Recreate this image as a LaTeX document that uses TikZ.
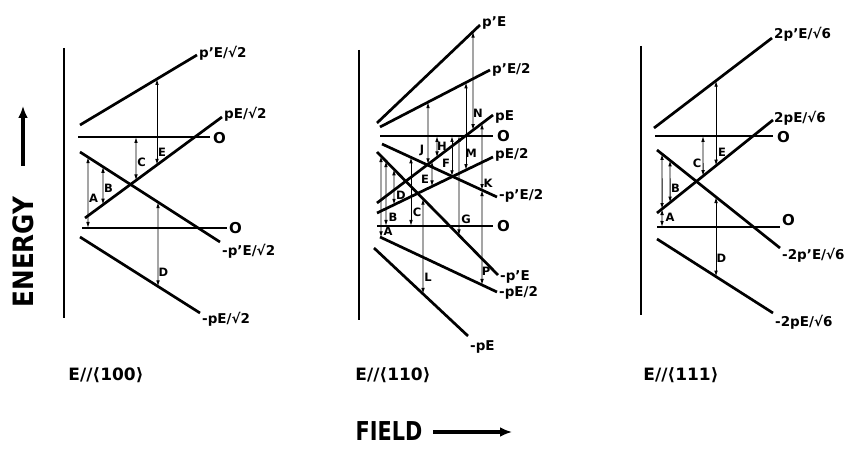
\documentclass[tikz,border=0pt]{standalone}
\usepackage{fontspec}
\setmainfont{DejaVu Sans}
\usetikzlibrary{arrows.meta}
\newcommand\trn[4]{%
  \coordinate (#1t) at (intersection cs:first line={(#3s)--(#3e)},second line={(#2,0)--(#2,10)});
  \coordinate (#1b) at (intersection cs:first line={(#4s)--(#4e)},second line={(#2,0)--(#2,10)});
  \draw[trans] (#1t) -- (#1b);}
\begin{document}
\begin{tikzpicture}[x=1pt,y=-1pt,
  level/.style={line width=2.7pt},
  axisline/.style={line width=2.7pt},
  trans/.style={line width=0.9pt,{Latex[length=6pt,width=3.6pt]}-{Latex[length=6pt,width=3.6pt]}},
  tlab/.style={font=\bfseries\fontsize{11.5}{11.5}\selectfont,inner sep=0pt},
  llab/.style={font=\bfseries\fontsize{13.5}{13.5}\selectfont,inner sep=0pt,anchor=west},
  olab/.style={font=\bfseries\fontsize{15}{15}\selectfont,inner sep=0pt,anchor=west},
  big/.style={font=\bfseries\fontsize{28}{28}\selectfont,inner sep=0pt},
  captxt/.style={font=\bfseries\fontsize{17}{17}\selectfont,inner sep=0pt},
  bigarrow/.style={line width=3.4pt,-{Latex[length=12pt,width=10pt]}}]
\useasboundingbox (0,0) rectangle (860,449);
% ---------------- axis titles
\node[big,rotate=90] (energy) at (23,252) {\scalebox{0.88}[1]{ENERGY}};
\coordinate (ea) at (23,166); \coordinate (eb) at (23,106);
\draw[bigarrow] (ea) -- (eb);
\node[big,font=\bfseries\fontsize{26}{26}\selectfont] (field) at (389,431) {\scalebox{0.8}[1]{FIELD}};
\coordinate (fa) at (433,432); \coordinate (fb) at (512,432);
\draw[bigarrow] (fa) -- (fb);
% ---------------- panel 1: E//<100>
\coordinate (ax1s) at (64,48); \coordinate (ax1e) at (64,318);
\draw[axisline] (ax1s) -- (ax1e);
\coordinate (a1s) at (80,125); \coordinate (a1e) at (197,55);
\coordinate (o1s) at (78,137); \coordinate (o1e) at (210,137);
\coordinate (b1s) at (85,218); \coordinate (b1e) at (222,117);
\coordinate (c1s) at (80,152); \coordinate (c1e) at (220,242);
\coordinate (z1s) at (82,228); \coordinate (z1e) at (227,228);
\coordinate (d1s) at (80,237); \coordinate (d1e) at (200,313);
\draw[level] (a1s) -- (a1e);
\draw[level] (o1s) -- (o1e);
\draw[level] (b1s) -- (b1e);
\draw[level] (c1s) -- (c1e);
\draw[level] (z1s) -- (z1e);
\draw[level] (d1s) -- (d1e);
\node[llab] (la1) at (199,53) {p'E/√2};
\node[olab] (lo1) at (213,138) {O};
\node[llab] (lb1) at (224,114) {pE/√2};
\node[llab] (lc1) at (222,251) {-p'E/√2};
\node[olab] (lz1) at (229,228) {O};
\node[llab] (ld1) at (202,319) {-pE/√2};
\trn{qA}{88}{c1}{z1}
\trn{qB}{103}{c1}{b1}
\trn{qC}{136}{o1}{b1}
\trn{qE}{157}{a1}{b1}
\trn{qD}{158}{c1}{d1}
\node[tlab] (tA1) at (93.5,198) {A};
\node[tlab] (tB1) at (108.5,188) {B};
\node[tlab] (tC1) at (141.5,162) {C};
\node[tlab] (tE1) at (162,152) {E};
\node[tlab] (tD1) at (163.5,272) {D};
\node[captxt] (cap1) at (106,375) {E//⟨100⟩};
% ---------------- panel 2: E//<110>
\coordinate (ax2s) at (359,50); \coordinate (ax2e) at (359,320);
\draw[axisline] (ax2s) -- (ax2e);
\coordinate (P1s) at (377,123); \coordinate (P1e) at (480,25);
\coordinate (P2s) at (380,127); \coordinate (P2e) at (490,70);
\coordinate (P3s) at (377,203); \coordinate (P3e) at (493,115);
\coordinate (U2s) at (380,136); \coordinate (U2e) at (493,136);
\coordinate (P4s) at (377,213); \coordinate (P4e) at (493,157);
\coordinate (P5s) at (382,144); \coordinate (P5e) at (497,197);
\coordinate (L2s) at (377,226); \coordinate (L2e) at (493,226);
\coordinate (P6s) at (377,152); \coordinate (P6e) at (498,275);
\coordinate (P7s) at (380,237); \coordinate (P7e) at (497,292);
\coordinate (P8s) at (374,248); \coordinate (P8e) at (468,336);
\foreach \l in {P1,P2,P3,U2,P4,P5,L2,P6,P7,P8} \draw[level] (\l s) -- (\l e);
\node[llab] (lP1) at (482,23) {p'E};
\node[llab] (lP2) at (492,70) {p'E/2};
\node[llab] (lP3) at (495,117) {pE};
\node[olab] (lU2) at (497,136) {O};
\node[llab] (lP4) at (495,155) {pE/2};
\node[llab] (lP5) at (499,196) {-p'E/2};
\node[olab] (lL2) at (497,226) {O};
\node[llab] (lP6) at (500,277) {-p'E};
\node[llab] (lP7) at (499,293) {-pE/2};
\node[llab] (lP8) at (470,347) {-pE};
\trn{rA}{381}{P6}{P7}
\trn{rB}{386}{P6}{L2}
\trn{rD}{394}{P6}{P4}
\trn{rC}{411}{P5}{L2}
\trn{rL}{423}{P6}{P8}
\trn{rJ}{428}{P2}{P3}
\trn{rE}{432}{P3}{P4}
\trn{rH}{437}{U2}{P3}
\trn{rF}{452}{U2}{P5}
\trn{rG}{459}{U2}{P6}
\trn{rM}{466}{P2}{P4}
\trn{rN}{473}{P1}{P3}
\trn{rK}{482}{P3}{P5}
\trn{rP}{482}{P5}{P7}
\node[tlab] (tA2) at (388,231) {A};
\node[tlab] (tB2) at (393,217) {B};
\node[tlab] (tD2) at (401,195) {D};
\node[tlab] (tC2) at (417,212) {C};
\node[tlab] (tL2) at (428,277) {L};
\node[tlab] (tJ2) at (422,150) {J};
\node[tlab] (tE2) at (425,179) {E};
\node[tlab] (tH2) at (442,146) {H};
\node[tlab] (tF2) at (446,163) {F};
\node[tlab] (tG2) at (466,219) {G};
\node[tlab] (tM2) at (471,153) {M};
\node[tlab] (tN2) at (478,113) {N};
\node[tlab] (tK2) at (488,183) {K};
\node[tlab] (tP2) at (486,271) {P};
\node[captxt] (cap2) at (393,375) {E//⟨110⟩};
% ---------------- panel 3: E//<111>
\coordinate (ax3s) at (641,46); \coordinate (ax3e) at (641,315);
\draw[axisline] (ax3s) -- (ax3e);
\coordinate (Q1s) at (654,128); \coordinate (Q1e) at (772,38);
\coordinate (U3s) at (655,136); \coordinate (U3e) at (773,136);
\coordinate (Q2s) at (657,213); \coordinate (Q2e) at (773,120);
\coordinate (Q3s) at (657,150); \coordinate (Q3e) at (780,248);
\coordinate (L3s) at (657,227); \coordinate (L3e) at (780,227);
\coordinate (Q4s) at (657,239); \coordinate (Q4e) at (773,313);
\foreach \l in {Q1,U3,Q2,Q3,L3,Q4} \draw[level] (\l s) -- (\l e);
\node[llab] (lQ1) at (774,34) {2p'E/√6};
\node[olab] (lU3) at (777,137) {O};
\node[llab] (lQ2) at (774,118) {2pE/√6};
\node[llab] (lQ3) at (782,255) {-2p'E/√6};
\node[olab] (lL3) at (782,220) {O};
\node[llab] (lQ4) at (775,322) {-2pE/√6};
\trn{sX}{662}{Q3}{Q2}
\trn{sA}{662}{Q2}{L3}
\trn{sB}{670}{Q3}{Q2}
\trn{sC}{703}{U3}{Q2}
\trn{sE}{716}{Q1}{Q2}
\trn{sD}{716}{Q3}{Q4}
\node[tlab] (tA3) at (670,217) {A};
\node[tlab] (tB3) at (675.5,188) {B};
\node[tlab] (tC3) at (697,163) {C};
\node[tlab] (tE3) at (722,152) {E};
\node[tlab] (tD3) at (721.5,258) {D};
\node[captxt] (cap3) at (681,375) {E//⟨111⟩};
\end{tikzpicture}
\end{document}
